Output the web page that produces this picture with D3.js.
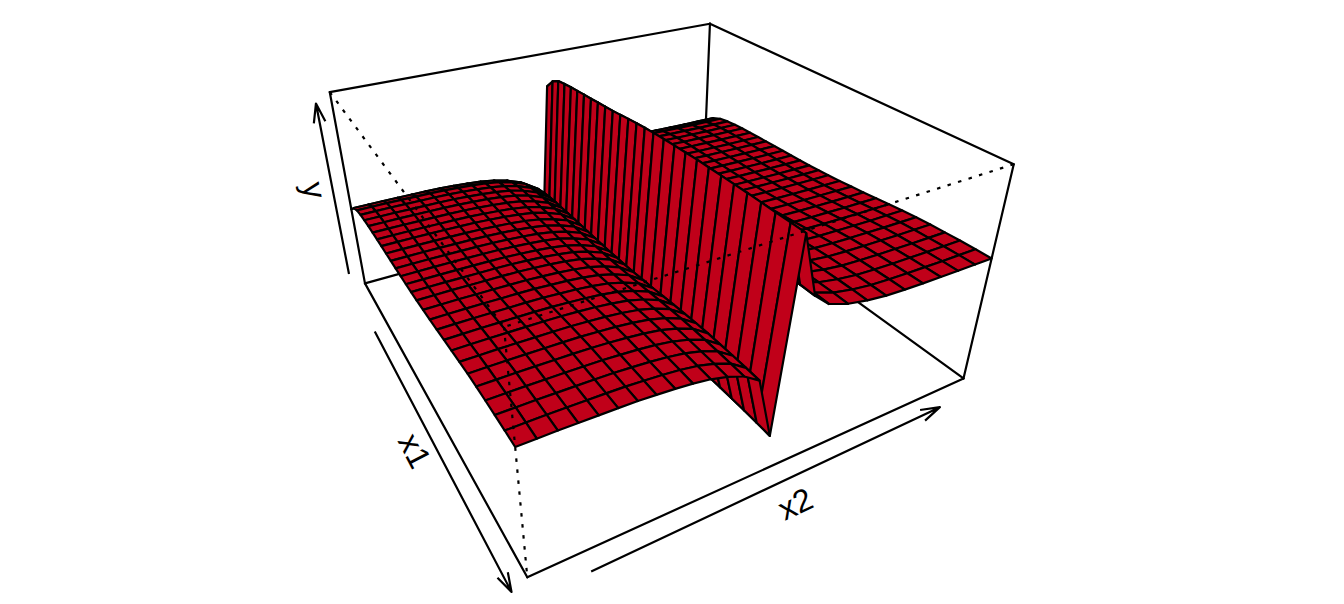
<!DOCTYPE html>
<html>
<head>
<meta charset="utf-8">
<script src="https://cdn.jsdelivr.net/npm/d3@7"></script>
<style>
html,body{margin:0;padding:0;background:#fff;}
svg{display:block;}
text{font-family:"Liberation Sans",Arial,sans-serif;fill:#000;}
</style>
</head>
<body>
<svg id="chart" width="1344" height="604"></svg>
<script>
// x1 positions of the mesh lines (fraction of the x1 range)
const x1Values = [0,.04,.08,.12,.16,.2,.24,.28,.32,.36,.4,.44,.48,.515,.549,.584,.619,.653,.688,.723,.757,.792,.827,.861,.896,.931,.965,1];
// x2 positions of the mesh lines (fraction of the x2 range)
const x2Values = [0,.0345,.069,.103,.138,.172,.207,.241,.276,.31,.345,.379,.414,.448,.483,.517,.552,.586,.632,.678,.724,.77,.816,.862,.908,.954,1];
// surface height (0-1 of the y box) along x2 at the x1 = low end
const yAlongX2 = [.568,.568,.568,.567,.566,.565,.563,.559,.554,.547,.536,.518,.491,.445,.16,.99,.725,.668,.637,.62,.609,.604,.601,.599,.597,.596,.595];
// change of height along x1 on the two plateaus
const yShiftAlongX1 = [0,0,-.001,-.003,-.005,-.009,-.015,-.021,-.028,-.035,-.041,-.047,-.052,-.055,-.058,-.06,-.062,-.063,-.065,-.066,-.068,-.07,-.072,-.076,-.082,-.092,-.112,-.151];
// change of height along x1 on the ridge crest
const ridgeShiftAlongX1 = [0,0,0,0,0,-.001,-.002,-.003,-.004,-.007,-.01,-.013,-.017,-.021,-.026,-.032,-.039,-.045,-.05,-.055,-.06,-.064,-.069,-.074,-.08,-.088,-.112,-.16];
const ridgeIndex = 15;
const x1Label = "x1", x2Label = "x2", yLabel = "y";

const surfaceFill = "#C00019";
const lineWidth = 2.2;
const x1Scale = d3.scaleLinear().domain([0, 1]).range([0, 1]);
const x2Scale = d3.scaleLinear().domain([0, 1]).range([0, 1]);
const yScale  = d3.scaleLinear().domain([0, 1]).range([0, 1]);

// camera: homogeneous projection of the unit box (u = x1, v = x2, w = y)
const camera = [
  [28.2, 726.2, -111, 527.3],
  [-146, -85, -307.2, 577.3],
  [.522, .301, -.174, 1]
];
const project = (u, v, w) => {
  const q = camera.map(r => r[0]*u + r[1]*v + r[2]*w + r[3]);
  return [q[0]/q[2], q[1]/q[2]];
};
const heightAt = (i, j) => {
  const shift = j === ridgeIndex ? ridgeShiftAlongX1[i] : yShiftAlongX1[i];
  return yAlongX2[j] + shift;
};
const node = (i, j) => project(x1Scale(x1Values[i]), x2Scale(x2Values[j]), yScale(heightAt(i, j)));

const svg = d3.select("#chart");
const line = d3.line();
const segment = (a, b) => line([project(...a), project(...b)]);

// solid box edges, behind the surface
const solidEdges = [
  [[1,0,1],[1,1,1]], [[1,1,1],[0,1,1]], [[1,0,1],[1,0,0]], [[1,1,1],[1,1,0]],
  [[0,1,1],[0,1,0]], [[1,0,0],[0,0,0]], [[0,0,0],[0,1,0]], [[1,0,0],[1,1,0]], [[1,1,0],[0,1,0]]
];
svg.append("g").selectAll("path").data(solidEdges).join("path")
  .attr("d", d => segment(d[0], d[1]))
  .attr("fill", "none").attr("stroke", "#000").attr("stroke-width", lineWidth).attr("stroke-linecap", "round");

// surface facets, far to near
const cells = [];
for (let i = x1Values.length - 2; i >= 0; i--) {
  for (let j = x2Values.length - 2; j >= 0; j--) cells.push([i, j]);
}
svg.append("g").selectAll("path").data(cells).join("path")
  .attr("d", ([i, j]) => line([node(i, j), node(i + 1, j), node(i + 1, j + 1), node(i, j + 1)]) + "Z")
  .attr("fill", surfaceFill).attr("stroke", "#000").attr("stroke-width", lineWidth).attr("stroke-linejoin", "round");

// dotted near box edges, on top
const dottedEdges = [ [[1,0,1],[0,0,1]], [[0,1,1],[0,0,1]], [[0,0,1],[0,0,0]] ];
svg.append("g").selectAll("path").data(dottedEdges).join("path")
  .attr("d", d => segment(d[0], d[1]))
  .attr("fill", "none").attr("stroke", "#000").attr("stroke-width", lineWidth).attr("stroke-dasharray", "3.5 7.5");

// axis arrows and their names
const axes = [
  {from:[.79,-.033,0], to:[-.013,-.033,0], label:x1Label, at:[.373,-.07,0], flip:false},
  {from:[-.042,.095,0], to:[-.04,.889,0], label:x2Label, at:[-.095,.475,0], flip:false},
  {from:[1,-.033,.076], to:[1,-.033,.96], label:yLabel, at:[1,-.072,.555], flip:true}
];
const headLength = 20, headAngle = 17 * Math.PI / 180;
const axisG = svg.append("g").selectAll("g").data(axes).join("g");
axisG.append("path")
  .attr("d", d => {
    const a = project(...d.from), b = project(...d.to);
    const t = Math.atan2(a[1]-b[1], a[0]-b[0]);
    const barb = s => [b[0] + headLength*Math.cos(t+s*headAngle), b[1] + headLength*Math.sin(t+s*headAngle)];
    return line([a, b]) + line([barb(1), b, barb(-1)]);
  })
  .attr("fill", "none").attr("stroke", "#000").attr("stroke-width", lineWidth).attr("stroke-linejoin", "round");
axisG.append("text")
  .text(d => d.label)
  .attr("font-size", 32)
  .attr("text-anchor", "middle")
  .attr("transform", d => {
    const a = project(...d.from), b = project(...d.to), p = project(...d.at);
    let ang = Math.atan2(b[1]-a[1], b[0]-a[0]) * 180 / Math.PI;
    if (d.flip) ang += 180;
    return `translate(${p[0]},${p[1]}) rotate(${ang})`;
  })
  .attr("dy", "0.35em");
</script>
</body>
</html>
